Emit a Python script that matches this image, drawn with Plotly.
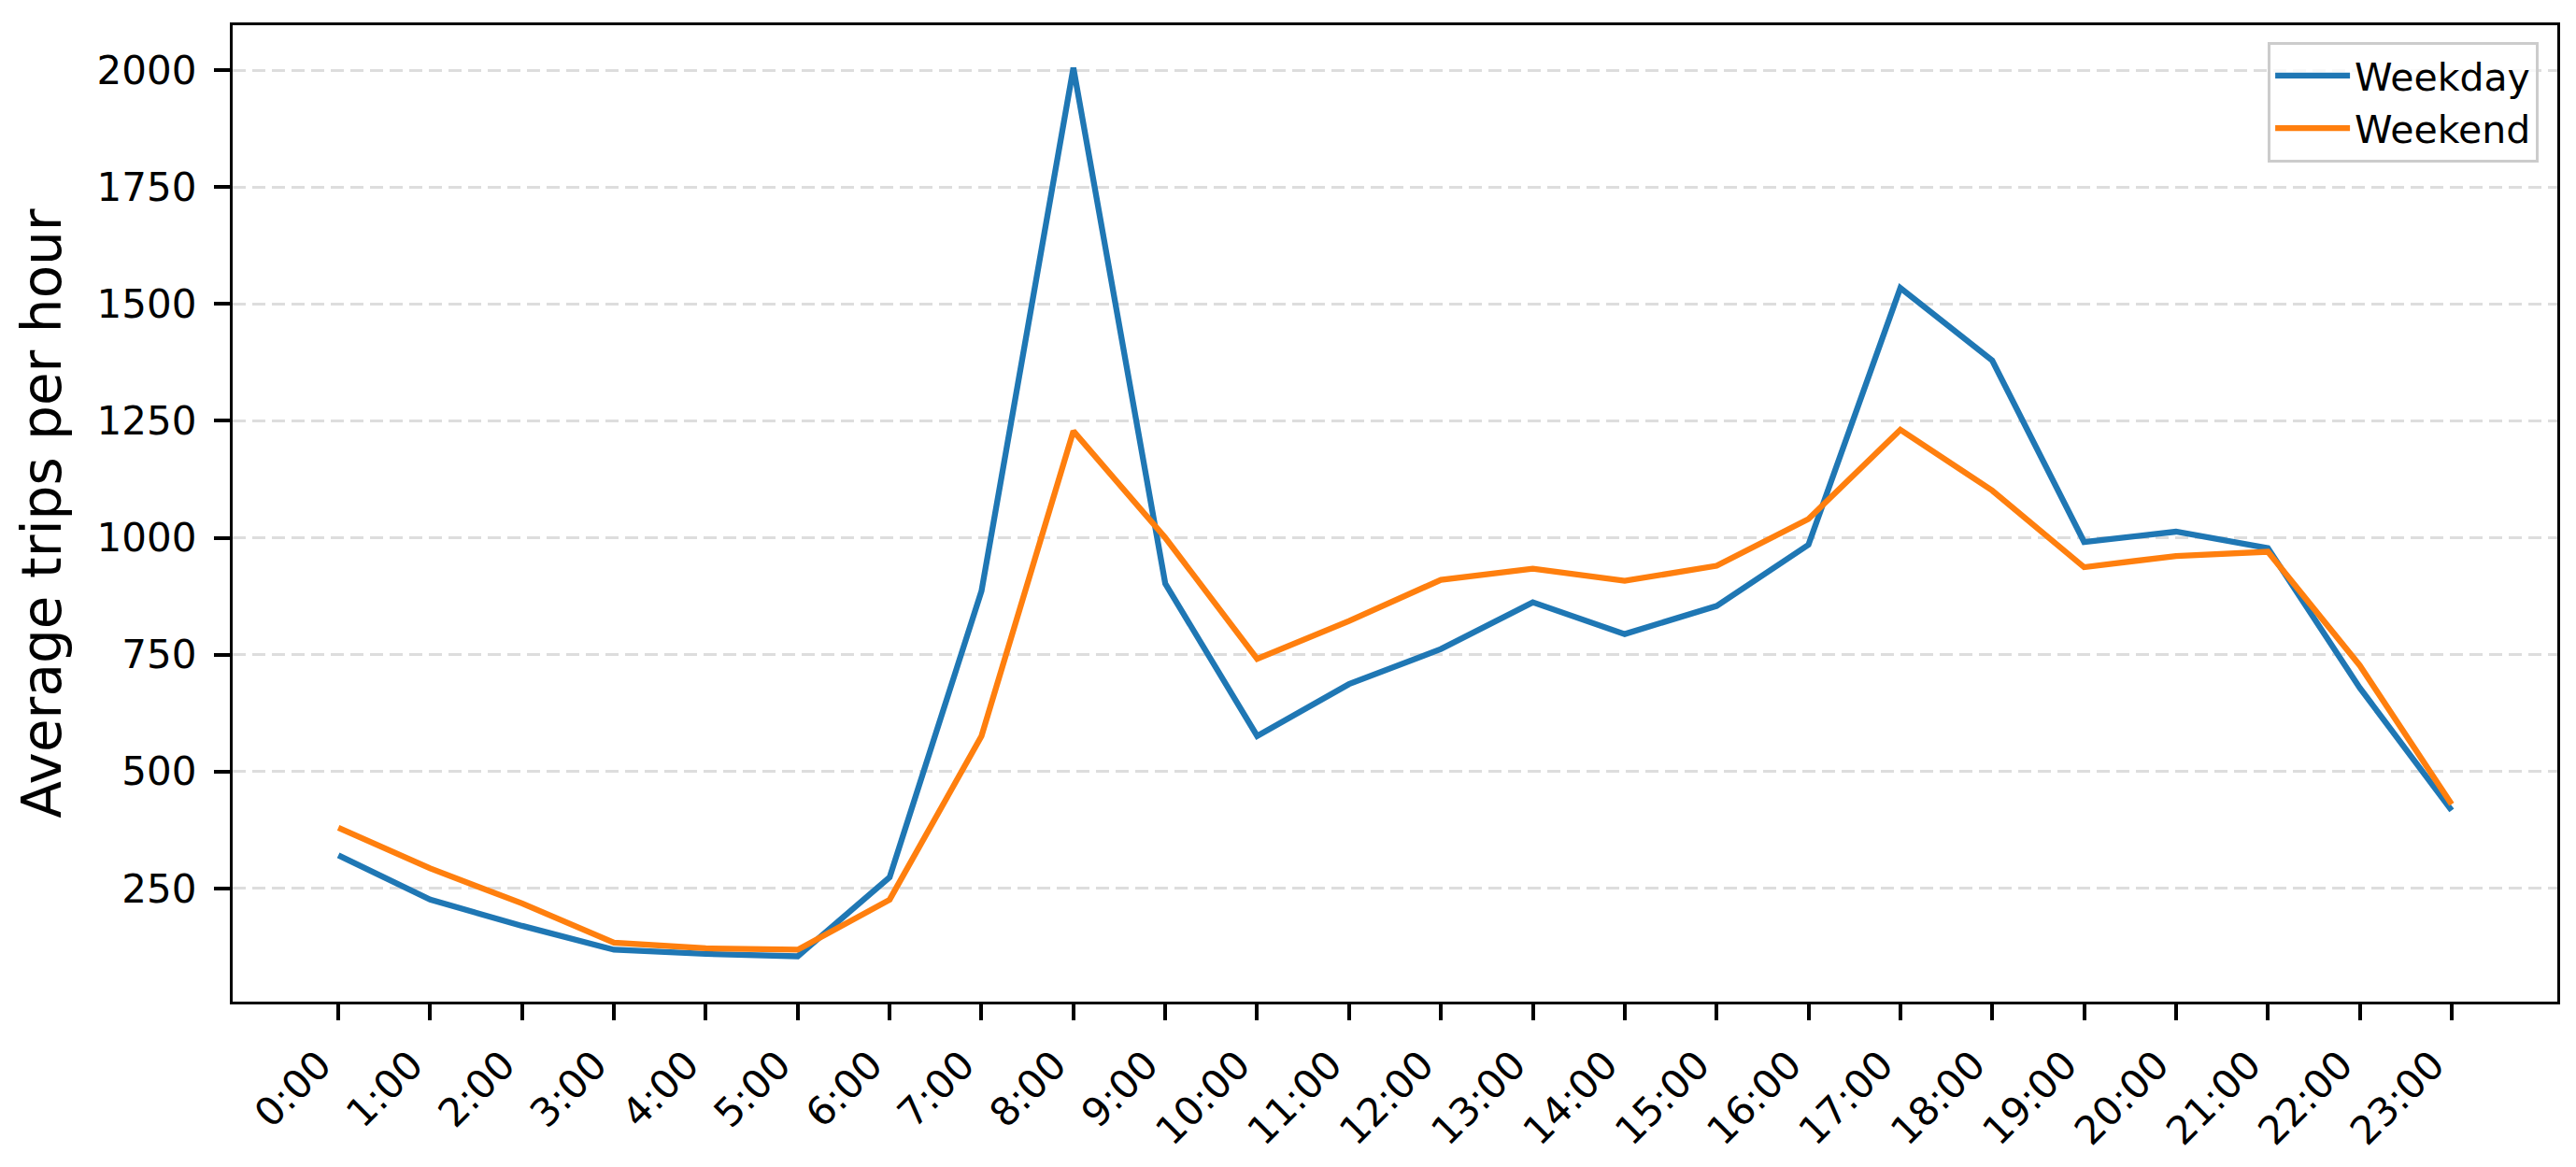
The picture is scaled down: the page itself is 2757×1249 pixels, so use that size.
import plotly.graph_objects as go

hours = [f"{h}:00" for h in range(24)]
weekday = [321, 226, 170, 119, 110, 105, 274, 886, 2005, 902, 576, 687,
           762, 862, 794, 854, 985, 1534, 1379, 991, 1013, 978, 679, 417]
weekend = [380, 293, 218, 134, 122, 119, 226, 576, 1228, 1000, 741, 822,
           910, 934, 908, 940, 1040, 1231, 1101, 937, 961, 970, 727, 430]
y_ticks = [250, 500, 750, 1000, 1250, 1500, 1750, 2000]

FONT = "DejaVu Sans"

fig = go.Figure()
fig.add_trace(go.Scatter(x=hours, y=weekday, mode="lines", name="Weekday",
                         line=dict(color="#1f77b4", width=6.3)))
fig.add_trace(go.Scatter(x=hours, y=weekend, mode="lines", name="Weekend",
                         line=dict(color="#ff7f0e", width=6.3)))

fig.update_layout(
    width=2757, height=1249,
    margin=dict(l=249, r=20, t=27, b=177, autoexpand=False),
    paper_bgcolor="white", plot_bgcolor="white",
    font=dict(family=FONT, size=42, color="black"),
    legend=dict(x=0.992, y=0.983, xanchor="right", yanchor="top",
                bgcolor="rgba(255,255,255,0.8)", bordercolor="#cccccc",
                borderwidth=3, font=dict(size=41, family=FONT),
                itemwidth=80),
    showlegend=True,
)
fig.update_xaxes(
    type="category", range=[-1.15, 24.15], automargin=False,
    showline=True, linecolor="black", linewidth=3.3, mirror=True,
    ticks="outside", ticklen=17, tickwidth=3.5, tickcolor="black",
    tickangle=-45, showgrid=False, zeroline=False,
    tickfont=dict(size=42, family=FONT),
    ticklabelshift=-20, ticklabelstandoff=6,
)
fig.update_yaxes(
    range=[8, 2096], tickvals=y_ticks, ticktext=[str(v) for v in y_ticks],
    automargin=False,
    showline=True, linecolor="black", linewidth=3.3, mirror=True,
    ticks="outside", ticklen=17, tickwidth=3.5, tickcolor="black",
    showgrid=True, gridcolor="#dddddd", gridwidth=3.3, griddash="14px,7px",
    zeroline=False,
    tickfont=dict(size=42, family=FONT),
    ticklabelstandoff=10,
    title=dict(text="Average trips per hour", font=dict(size=58, family=FONT), standoff=20),
)

fig.write_html("out.html", config={"displayModeBar": False},
               post_script="document.body.style.margin='0';")
